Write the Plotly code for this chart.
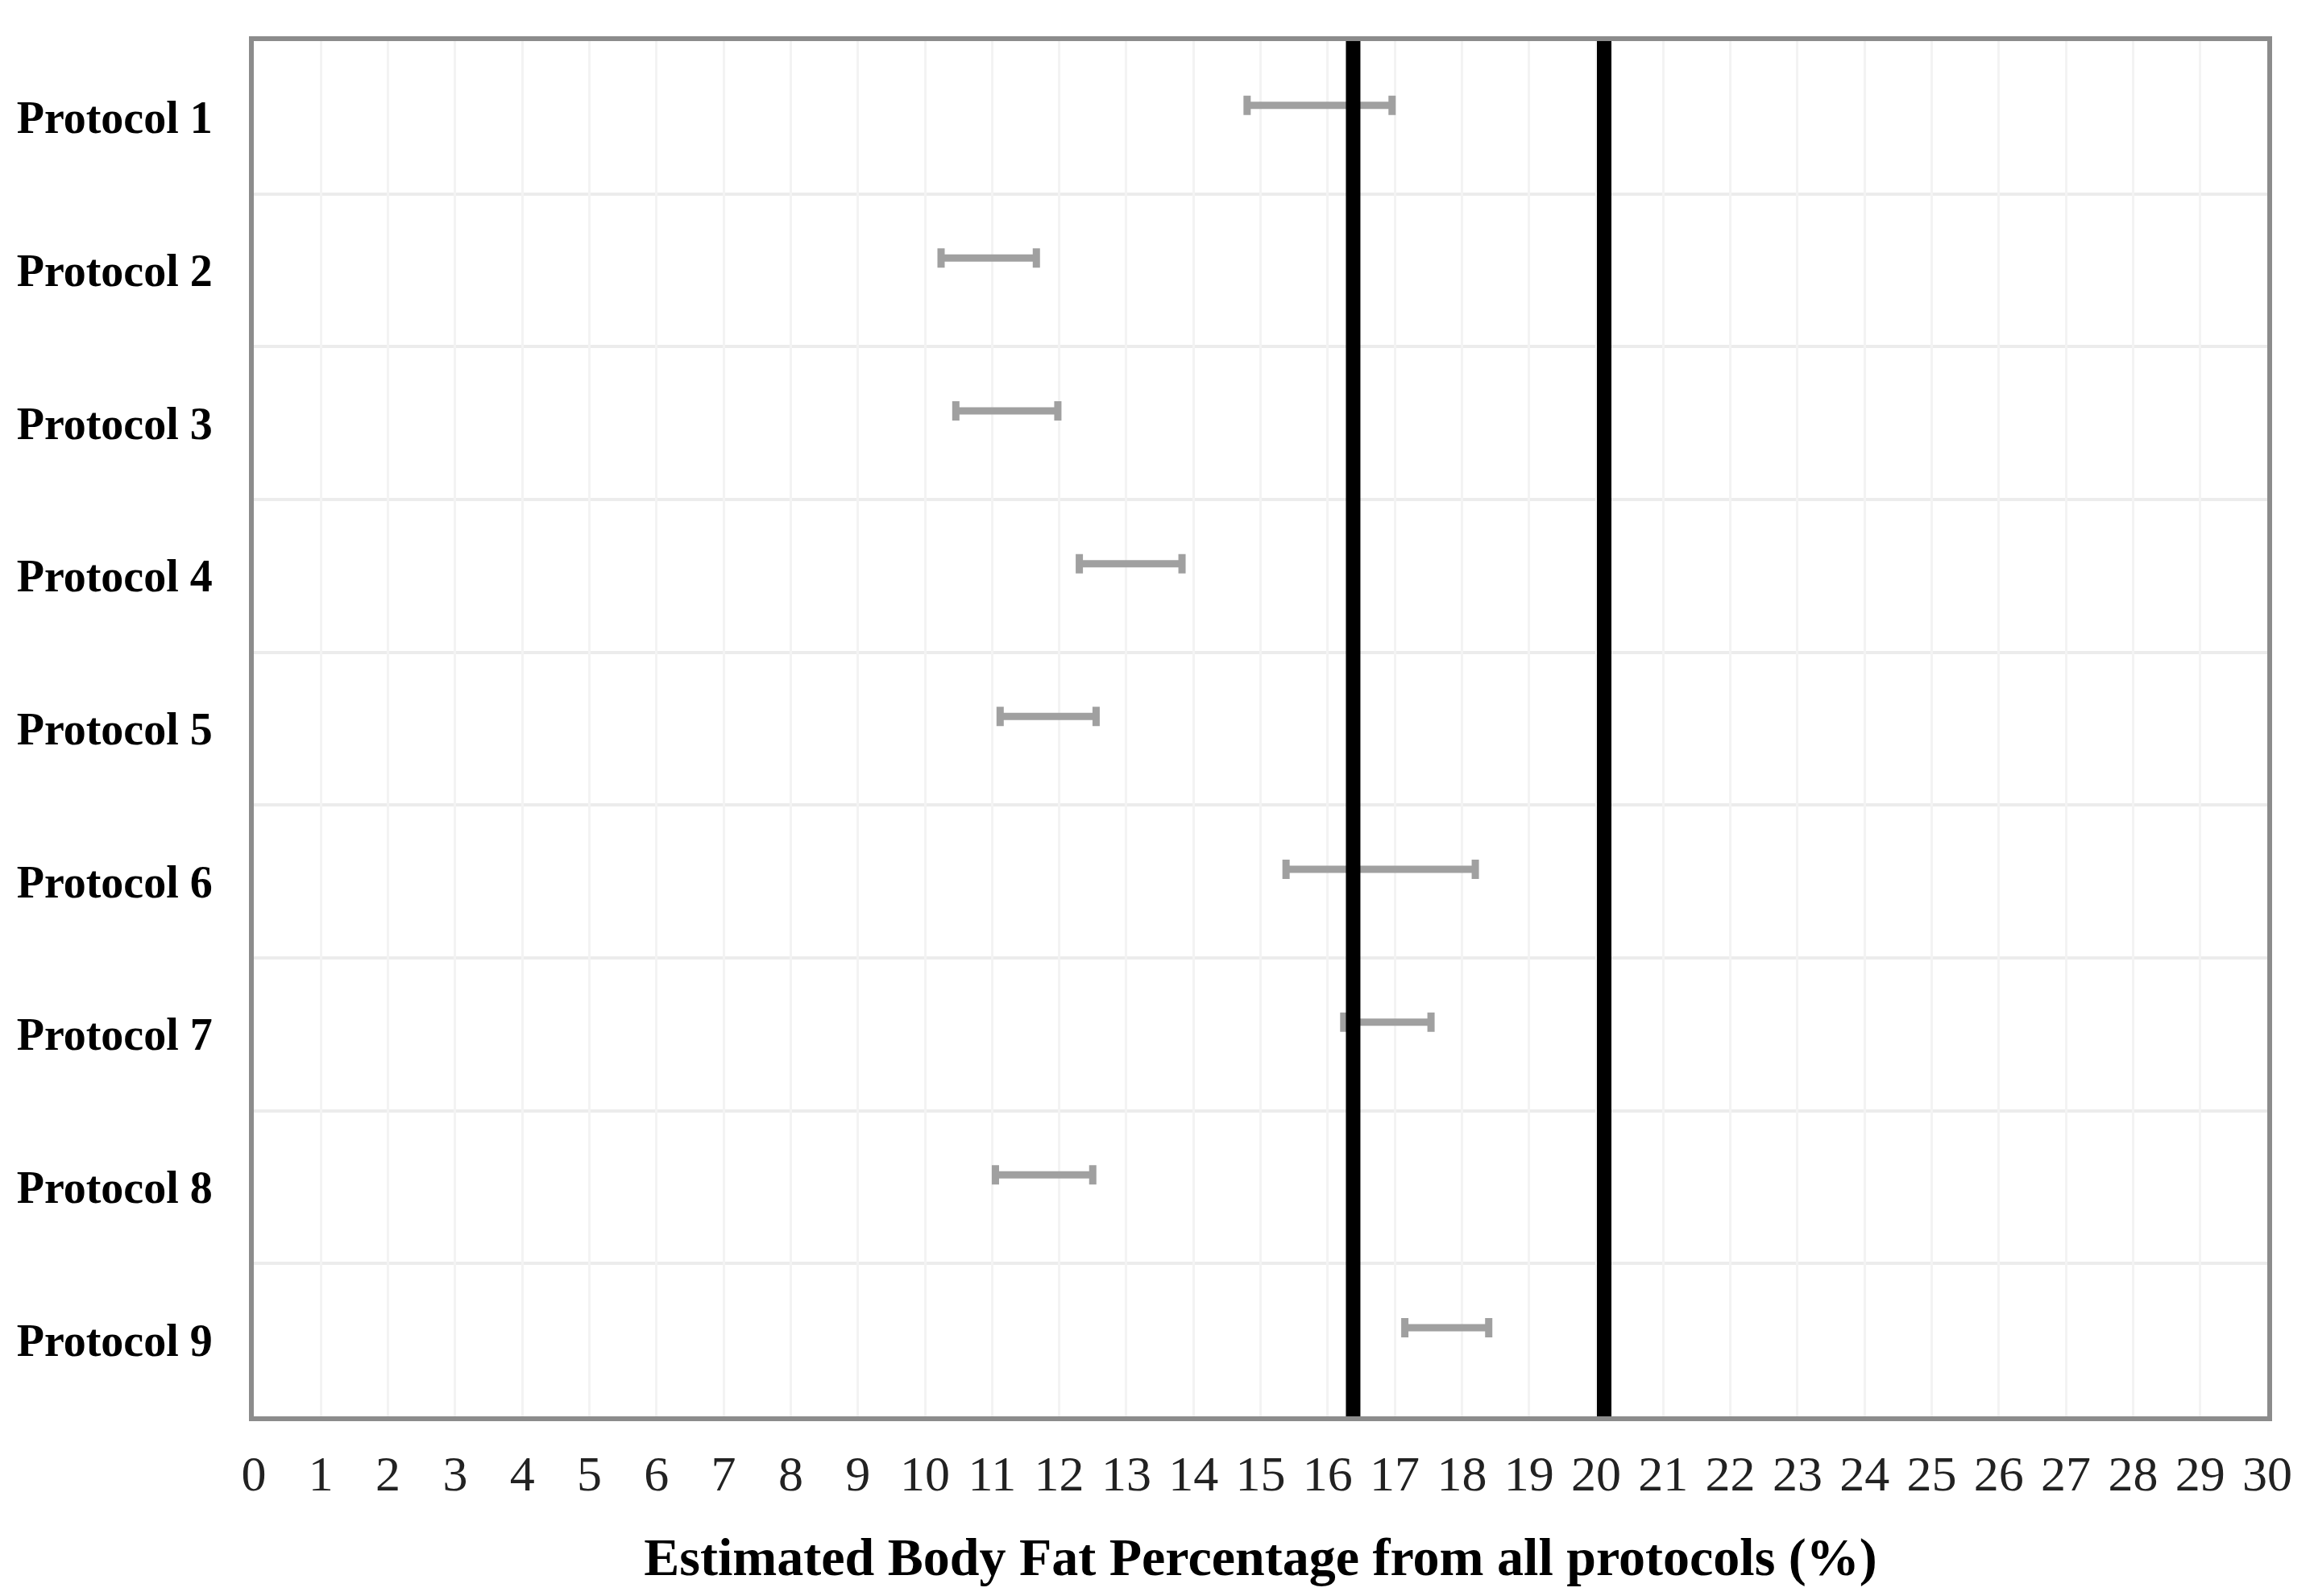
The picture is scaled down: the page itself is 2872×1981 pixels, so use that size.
import plotly.graph_objects as go

protocols = ["Protocol 1", "Protocol 2", "Protocol 3", "Protocol 4", "Protocol 5",
             "Protocol 6", "Protocol 7", "Protocol 8", "Protocol 9"]
lower = [14.80, 10.24, 10.46, 12.30, 11.12, 15.38, 16.24, 11.05, 17.15]
upper = [16.96, 11.66, 11.98, 13.83, 12.55, 18.20, 17.54, 12.50, 18.40]
reference_lines = [16.38, 20.12]
x_ticks = list(range(0, 31))

BAR_OFFSET = -0.08  # bars sit slightly above the row centre

mid = [(lo + hi) / 2 for lo, hi in zip(lower, upper)]
half = [(hi - lo) / 2 for lo, hi in zip(lower, upper)]
ypos = [i + 0.5 + BAR_OFFSET for i in range(len(protocols))]

fig = go.Figure()

fig.add_trace(go.Scatter(
    x=mid, y=ypos, mode="markers",
    marker=dict(size=1, color="rgba(0,0,0,0)"),
    error_x=dict(type="data", array=half, symmetric=True,
                 color="#a0a0a0", thickness=9, width=12),
    showlegend=False, hoverinfo="skip",
))

for xv in reference_lines:
    fig.add_trace(go.Scatter(
        x=[xv, xv], y=[0, len(protocols)], mode="lines",
        line=dict(color="#000000", width=18),
        showlegend=False, hoverinfo="skip",
    ))

fig.update_layout(
    width=2872, height=1981,
    margin=dict(l=307, r=66, t=43, b=231),
    paper_bgcolor="white", plot_bgcolor="white",
    font=dict(family="Liberation Serif, Times New Roman, serif", color="#000000"),
)

fig.update_xaxes(
    range=[0, 30], tickmode="array", tickvals=x_ticks,
    ticktext=[str(t) for t in x_ticks],
    tickfont=dict(size=62, family="Liberation Serif", color="#222222"),
    showgrid=True, gridcolor="#f3f3f3", gridwidth=3,
    zeroline=False, automargin=False,
    showline=True, mirror=True, linecolor="#8c8c8c", linewidth=6,
    ticks="", ticklabelstandoff=12,
    title=dict(text="<b>Estimated Body Fat Percentage from all protocols (%)</b>",
               font=dict(size=66, family="Liberation Serif", color="#000000"),
               standoff=48),
)

fig.update_yaxes(
    range=[len(protocols), 0], tickmode="array",
    tickvals=[i + 0.5 for i in range(len(protocols))],
    ticktext=[f"<b>{p}</b>" for p in protocols],
    tickfont=dict(size=56, family="Liberation Serif", color="#000000"),
    showgrid=False, zeroline=False, automargin=False,
    minor=dict(tickmode="array", tickvals=list(range(1, len(protocols))),
               showgrid=True, gridcolor="#ececec", gridwidth=4, ticks=""),
    showline=True, mirror=True, linecolor="#8c8c8c", linewidth=6,
    ticks="", ticklabelstandoff=34,
)

fig.write_html("out.html")
